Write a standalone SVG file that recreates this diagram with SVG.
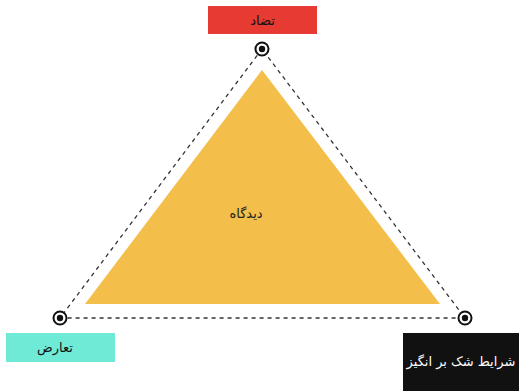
<svg xmlns="http://www.w3.org/2000/svg" width="519" height="391" viewBox="0 0 519 391">
<style>
.lbl{font-family:"DejaVu Sans","Noto Sans",sans-serif;font-size:13px;text-anchor:middle;dominant-baseline:central}
.dash{fill:none;stroke:#333;stroke-width:1.3;stroke-dasharray:4 4}
.ring{fill:#fff;stroke:#111;stroke-width:2}
.dot{fill:#111}
</style>
<rect width="519" height="391" fill="#fff"/>
<g id="connectors">
<polygon class="dash" points="262,49 60,318 465,318"/>
</g>
<g id="viewpoint">
<polygon points="262,70 85,304 440,304" fill="#F3BE49"/>
<text class="lbl" x="246" y="213" fill="#222">دیدگاه</text>
</g>
<g id="contradiction">
<rect x="208" y="6" width="109" height="28" fill="#E63A32"/>
<text class="lbl" x="262.5" y="20" fill="#111">تضاد</text>
<circle class="ring" cx="262" cy="49" r="6.5"/><circle class="dot" cx="262" cy="49" r="3.2"/>
</g>
<g id="conflict">
<rect x="6" y="333" width="109" height="29" fill="#6FEAD6"/>
<text class="lbl" x="55" y="347.5" fill="#111">تعارض</text>
<circle class="ring" cx="60" cy="318" r="6.5"/><circle class="dot" cx="60" cy="318" r="3.2"/>
</g>
<g id="suspicious">
<rect x="403" y="333" width="116" height="58" fill="#111"/>
<text class="lbl" x="461" y="361" fill="#fff">شرایط شک بر انگیز</text>
<circle class="ring" cx="465" cy="318" r="6.5"/><circle class="dot" cx="465" cy="318" r="3.2"/>
</g>
</svg>
